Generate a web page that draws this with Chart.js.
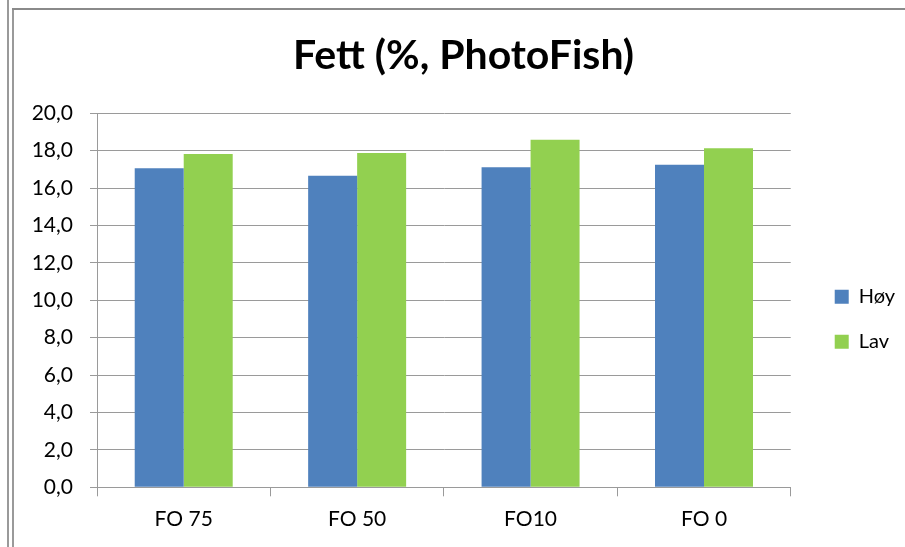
<!DOCTYPE html>
<html>
<head>
<meta charset="utf-8">
<script src="https://cdn.jsdelivr.net/npm/chart.js@4/dist/chart.umd.min.js"></script>
<style>
  html, body { margin: 0; padding: 0; background: #fff; }
  #wrap { position: relative; width: 905px; height: 547px; overflow: hidden; }
  #c { position: absolute; left: 0; top: 0; }
  .ln { position: absolute; background: #9a9a9a; }
</style>
</head>
<body>
<div id="wrap">
  <canvas id="c" width="905" height="547"></canvas>
  <div class="ln" style="left:7px;top:0;width:2px;height:547px;"></div>
  <div class="ln" style="left:12px;top:8px;width:2px;height:539px;"></div>
  <div class="ln" style="left:12px;top:8px;width:893px;height:2px;background:#8a8a8a;"></div>
</div>
<script>
const titleText = 'Fett (%, PhotoFish)';
const categories = ['FO 75', 'FO 50', 'FO10', 'FO 0'];
const seriesNames = ['Høy', 'Lav'];
const hoyValues = [17.06, 16.66, 17.11, 17.25];
const lavValues = [17.82, 17.88, 18.59, 18.13];
const yTickLabels = ['0,0', '2,0', '4,0', '6,0', '8,0', '10,0', '12,0', '14,0', '16,0', '18,0', '20,0'];

const FONT = 'Lato, "Open Sans", "Liberation Sans", sans-serif';
const GRID = '#9a9a9a';

new Chart(document.getElementById('c'), {
  type: 'bar',
  data: {
    labels: categories,
    datasets: [
      { label: seriesNames[0], data: hoyValues, backgroundColor: '#4F81BD', borderWidth: 0 },
      { label: seriesNames[1], data: lavValues, backgroundColor: '#92D050', borderWidth: 0 }
    ]
  },
  options: {
    responsive: false,
    animation: false,
    devicePixelRatio: 1,
    layout: { padding: { left: 22, right: 0, top: 8, bottom: 0 } },
    datasets: { bar: { categoryPercentage: 0.565, barPercentage: 1.0 } },
    plugins: {
      title: {
        display: true,
        text: titleText,
        color: '#000',
        font: { family: FONT, size: 41, weight: 'bold', lineHeight: 1.2 },
        padding: { top: 23, bottom: 33.1 }
      },
      legend: {
        display: true,
        position: 'right',
        align: 'center',
        title: { display: true, text: ' ', font: { size: 10, lineHeight: 1.2 }, padding: 35.7 },
        labels: {
          color: '#000',
          font: { family: FONT, size: 20 },
          boxWidth: 14,
          boxHeight: 14,
          padding: 25
        }
      },
      tooltip: { enabled: false }
    },
    scales: {
      x: {
        offset: true,
        grid: { display: true, drawOnChartArea: false, drawTicks: true, tickLength: 9, color: GRID, offset: true },
        border: { display: true, color: GRID, width: 1 },
        ticks: { color: '#000', font: { family: FONT, size: 21 }, padding: 10, maxRotation: 0 },
        afterFit: s => { s.height = 547 - 487.3; }
      },
      y: {
        min: 0, max: 20,
        ticks: {
          stepSize: 2,
          color: '#000',
          font: { family: FONT, size: 21 },
          padding: 17,
          callback: (v, i) => yTickLabels[i]
        },
        grid: { color: GRID, tickLength: 7, drawTicks: true },
        border: { display: true, color: GRID, width: 1 },
        afterFit: s => { s.width = 75; }
      },
      reserve: {
        type: 'linear',
        position: 'right',
        display: true,
        grid: { display: false, drawTicks: false },
        border: { display: false },
        ticks: { display: false },
        afterFit: s => { s.width = 19; }
      }
    }
  }
});
</script>
</body>
</html>
